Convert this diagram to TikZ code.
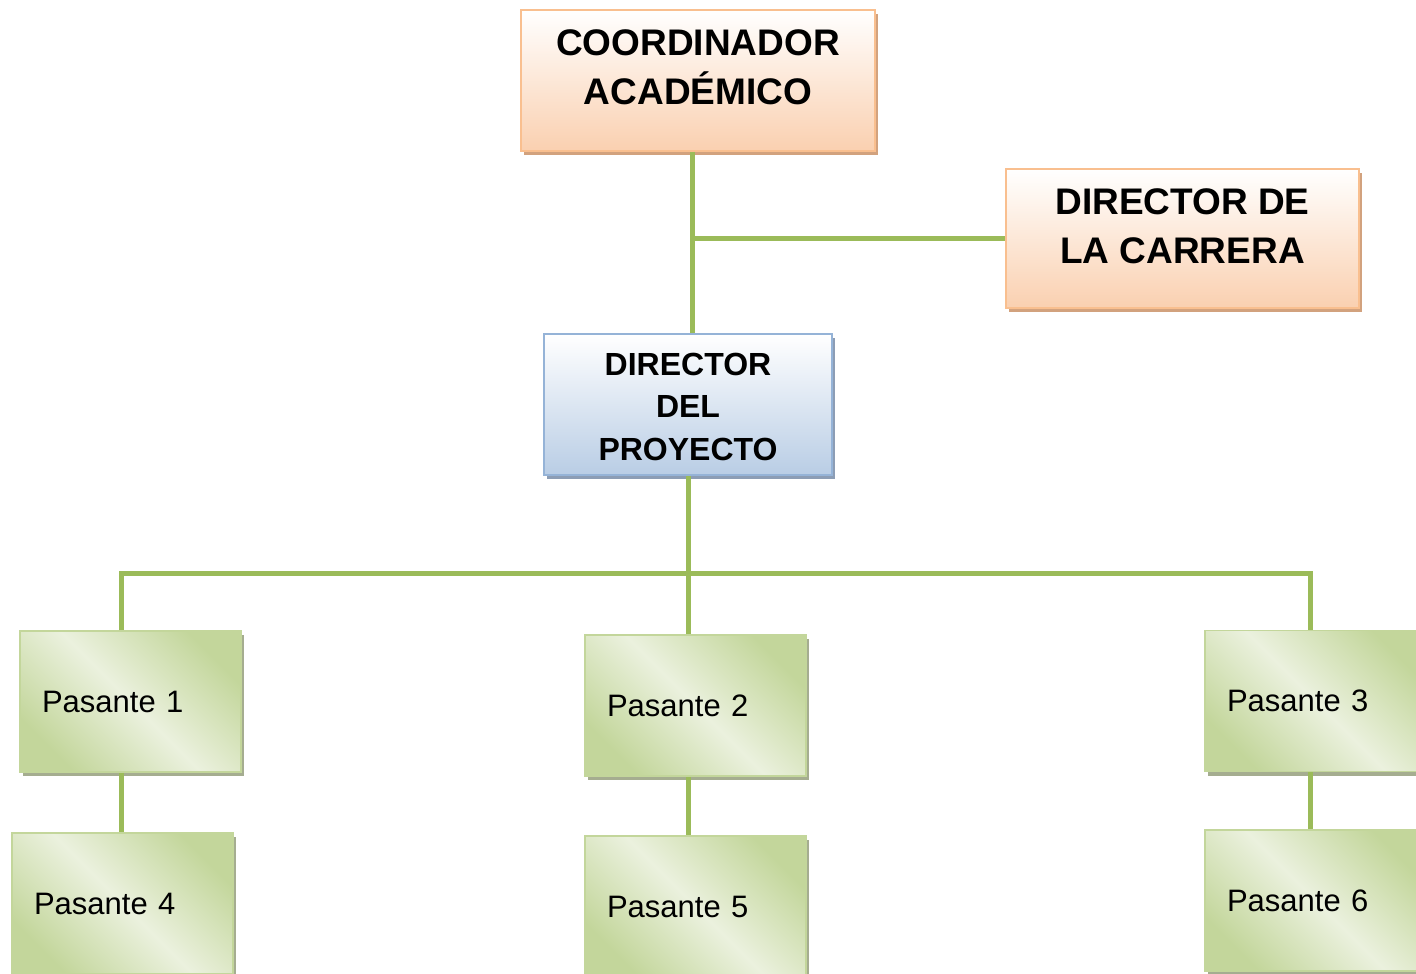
\documentclass[tikz,border=0pt]{standalone}
\usepackage{fontspec}
\setmainfont{Liberation Sans}
\usepackage{tikz}
\usetikzlibrary{shadows}

\definecolor{peachline}{HTML}{F9BF8F}
\definecolor{peachfill}{HTML}{FAD0B0}
\definecolor{peachshadow}{HTML}{D2A27E}
\definecolor{blueline}{HTML}{95B3D7}
\definecolor{bluefill}{HTML}{B9CDE5}
\definecolor{blueshadow}{HTML}{8C9DB5}
\definecolor{greenline}{HTML}{C3D69B}
\definecolor{greendark}{HTML}{C3D69B}
\definecolor{greenlight}{HTML}{EBF1DE}
\definecolor{greenshadow}{HTML}{A5AD90}
\definecolor{linkgreen}{HTML}{9BBB59}

\begin{document}
\begin{tikzpicture}[x=1pt,y=-1pt]
                \tikzset{box/.style={draw, line width=1.5pt, inner sep=0pt, align=center},
                  jefe/.style={box, draw=peachline, top color=white, bottom color=peachfill,
                    general shadow={shadow xshift=3pt, shadow yshift=-4pt, fill=peachshadow},
                    font=\fontsize{37}{49}\selectfont\bfseries},
                  director/.style={box, draw=blueline, top color=white, bottom color=bluefill,
                    general shadow={shadow xshift=3pt, shadow yshift=-4pt, fill=blueshadow},
                    minimum width=288pt, minimum height=141pt, text height=112pt,
                    font=\fontsize{32}{42.5}\selectfont\bfseries},
                  pasante/.style={box, draw=greenline, left color=greendark, right color=greendark,
                    middle color=greenlight, shading angle=-45,
                    general shadow={shadow xshift=3pt, shadow yshift=-4pt, fill=greenshadow},
                    text width=177pt, align=left, inner xsep=22pt, minimum height=141pt,
                    font=\fontsize{31}{37}\selectfont},
                  link/.style={draw=linkgreen, line width=5pt}}

                \useasboundingbox (0,0) rectangle (1416,974);

                \node[jefe, minimum width=354pt, minimum height=141pt, text depth=26pt] (A) at (698,80.5) {COORDINADOR\\ACADÉMICO};
                \node[jefe, minimum width=353pt, minimum height=139pt, text depth=25pt] (C) at (1182.5,238.5) {DIRECTOR DE\\LA CARRERA};
                \node[director] (D) at (688,404.5) {DIRECTOR\\DEL\\PROYECTO};

                \node[pasante] (P1) at (130.5,701.5) {Pasante 1};
                \node[pasante] (P2) at (695.5,705.5) {Pasante 2};
                \node[pasante] (P3) at (1315.5,701) {Pasante 3};
                \node[pasante] (P4) at (122.5,903.5) {Pasante 4};
                \node[pasante] (P5) at (695.5,906.5) {Pasante 5};
                \node[pasante] (P6) at (1315.5,900.5) {Pasante 6};

                \coordinate (j1) at (692,238);
                \coordinate (j2) at (688,573);
                \coordinate (l) at (121,573);
                \coordinate (r) at (1310,573);

                \draw[link] (A.south -| j1) -- (D.north -| j1);
                \draw[link] (j1) -- (C.west |- j1);
                \draw[link] (D.south -| j2) -- (P2.north -| j2);
                \draw[link] (P1.north -| l) -- (l) -- (r) -- (P3.north -| r);
                \draw[link] (P1.south -| l) -- (P4.north -| l);
                \draw[link] (P2.south -| j2) -- (P5.north -| j2);
                \draw[link] (P3.south -| r) -- (P6.north -| r);
            \end{tikzpicture}
\end{document}
